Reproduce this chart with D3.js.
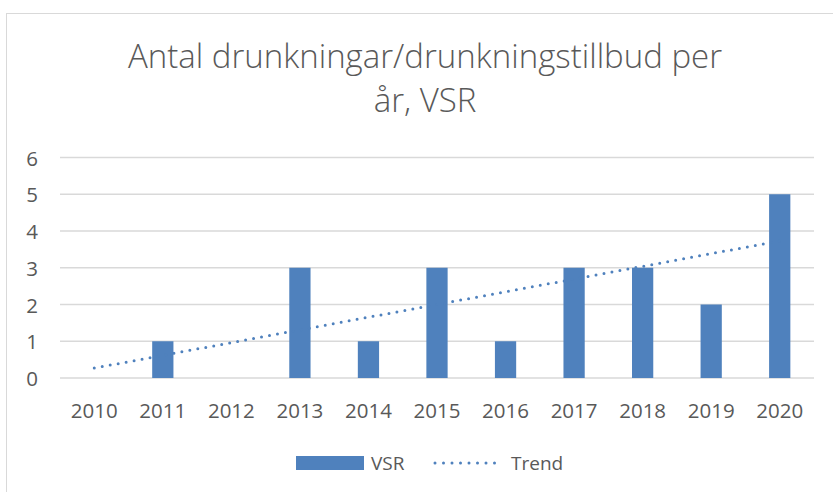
<!DOCTYPE html>
<html>
<head>
<meta charset="utf-8">
<script src="https://cdn.jsdelivr.net/npm/d3@7"></script>
<style>
  body { margin: 0; background: #fff; }
  text { font-family: "Open Sans", sans-serif; fill: #595959; }
</style>
</head>
<body>
<svg id="chart"></svg>
<script>
const years = ["2010","2011","2012","2013","2014","2015","2016","2017","2018","2019","2020"];
const vsr = [0, 1, 0, 3, 1, 3, 1, 3, 3, 2, 5];
// trend line ends (2010 -> 2020)
const trendYears = ["2010", "2020"];
const trendValues = [0.27, 3.73];
const yTicks = [0, 1, 2, 3, 4, 5, 6];
const titleLines = ["Antal drunkningar/drunkningstillbud per", "år, VSR"];

const width = 833, height = 492;
const margin = {left: 60, right: 19, top: 157.5, bottom: 114};

const svg = d3.select('#chart')
    .attr('width', width).attr('height', height);

svg.append('rect')
    .attr('x', 6.5).attr('y', 13.5)
    .attr('width', 840).attr('height', 500)
    .attr('fill', 'none').attr('stroke', '#d9d9d9');

const x = d3.scaleBand()
    .domain(years)
    .range([margin.left, width - margin.right])
    .paddingInner(0.69).paddingOuter(0.345);

const y = d3.scaleLinear()
    .domain([0, 6])
    .range([height - margin.bottom, margin.top]);

// gridlines
svg.append('g')
  .selectAll('line')
  .data(yTicks)
  .join('line')
    .attr('x1', margin.left).attr('x2', width - margin.right)
    .attr('y1', d => y(d)).attr('y2', d => y(d))
    .attr('stroke', '#d9d9d9').attr('stroke-width', 1.3);

// y labels
svg.append('g')
  .selectAll('text')
  .data(yTicks)
  .join('text')
    .attr('x', 38).attr('y', d => y(d) + 8)
    .attr('text-anchor', 'end')
    .attr('font-size', 20.5)
    .text(d => d);

// x labels
svg.append('g')
  .selectAll('text')
  .data(years)
  .join('text')
    .attr('x', d => x(d) + x.bandwidth() / 2)
    .attr('y', 417.5)
    .attr('text-anchor', 'middle')
    .attr('font-size', 20.5)
    .text(d => d);

// bars
svg.append('g')
    .attr('fill', '#4f81bd')
  .selectAll('rect')
  .data(years.map((yr, i) => ({yr, v: vsr[i]})).filter(d => d.v > 0))
  .join('rect')
    .attr('x', d => x(d.yr))
    .attr('width', x.bandwidth())
    .attr('y', d => y(d.v))
    .attr('height', d => y(0) - y(d.v));

// trend
const cx = d => x(d) + x.bandwidth() / 2;
svg.append('line')
    .attr('x1', cx(trendYears[0])).attr('y1', y(trendValues[0]))
    .attr('x2', cx(trendYears[1])).attr('y2', y(trendValues[1]))
    .attr('stroke', '#4f81bd')
    .attr('stroke-width', 3)
    .attr('stroke-linecap', 'round')
    .attr('stroke-dasharray', '0 8.1');

// title
const title = svg.append('g');
titleLines.forEach((t, i) => {
  title.append('text')
      .attr('x', 425).attr('y', 68 + i * 43.5)
      .attr('text-anchor', 'middle')
      .attr('font-size', 33)
      .attr('font-weight', 300)
      .text(t);
});

// legend
const lg = svg.append('g');
lg.append('rect')
    .attr('x', 296).attr('y', 456)
    .attr('width', 68).attr('height', 14)
    .attr('fill', '#4f81bd');
lg.append('text')
    .attr('x', 371).attr('y', 469.5)
    .attr('font-size', 19).text('VSR');
lg.append('line')
    .attr('x1', 435).attr('x2', 503)
    .attr('y1', 463).attr('y2', 463)
    .attr('stroke', '#4f81bd').attr('stroke-width', 3)
    .attr('stroke-linecap', 'round')
    .attr('stroke-dasharray', '0 8.5');
lg.append('text')
    .attr('x', 511).attr('y', 469.5)
    .attr('font-size', 19).text('Trend');
</script>
</body>
</html>
